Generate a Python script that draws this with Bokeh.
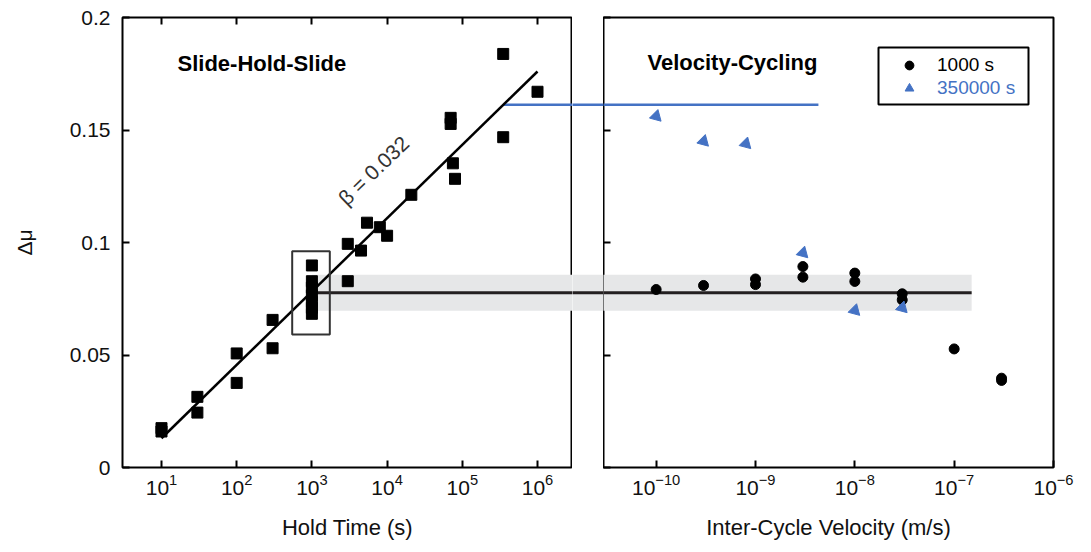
import math
from bokeh.plotting import figure
from bokeh.layouts import row
from bokeh.models import (Range1d, LogAxis, FixedTicker, NumeralTickFormatter,
                          Label, BoxAnnotation, Legend, LegendItem)
from bokeh.embed import file_html
from bokeh.resources import INLINE

# ---------------- data ----------------
# Slide-Hold-Slide: hold time (s) vs delta mu
shs_time = [10, 10, 30, 30, 100, 100, 300, 300,
            1000, 1000, 1000, 1000, 1000, 1000, 1000,
            3000, 3000, 4500, 5400, 8000, 10000, 21000,
            70000, 70000, 75000, 80000, 350000, 350000, 1000000]
shs_mu = [0.0175, 0.0160, 0.0314, 0.0244, 0.0507, 0.0376, 0.0656, 0.0530,
          0.0898, 0.0828, 0.0800, 0.0765, 0.0735, 0.0710, 0.0683,
          0.0994, 0.0828, 0.0964, 0.1088, 0.1068, 0.1030, 0.1212,
          0.1554, 0.1527, 0.1352, 0.1283, 0.1838, 0.1468, 0.1670]

# log-linear fit through SHS data
fit_time = [10, 1000000]
fit_mu = [0.013, 0.176]
beta_text = "\u03b2 = 0.032"

# box around the 1000 s SHS points
box_time = [547, 1730]
box_mu = [0.0591, 0.0961]

# Velocity cycling: inter-cycle velocity (m/s) vs delta mu
vc_v_1000 = [1e-10, 3e-10, 1e-9, 1e-9, 3e-9, 3e-9, 1e-8, 1e-8, 3e-8, 3e-8, 1e-7, 3e-7, 3e-7]
vc_mu_1000 = [0.0791, 0.0809, 0.0838, 0.0813, 0.0893, 0.0846, 0.0864, 0.0827,
              0.0772, 0.0745, 0.0527, 0.0397, 0.0387]
vc_v_350k = [1e-10, 3e-10, 8e-10, 3e-9, 1e-8, 3e-8]
vc_mu_350k = [0.1561, 0.1450, 0.1439, 0.0954, 0.0698, 0.0710]

# reference levels carried across panels
mean_1000_mu = 0.0777
band_1000 = [0.0697, 0.0857]
mean_1000_start_time = 1000
mean_1000_end_v = 1.5e-7
level_350k_mu = 0.1612
level_350k_start_time = 350000
level_350k_end_v = 4.3e-9

# axes
time_ticks = [1e1, 1e2, 1e3, 1e4, 1e5, 1e6]
vel_ticks = [1e-10, 1e-9, 1e-8, 1e-7, 1e-6]
mu_ticks = [0, 0.05, 0.1, 0.15, 0.2]
time_range = (10 ** 0.4814, 10 ** 6.4654)
vel_range = (10 ** -10.53, 1e-6)
mu_range = (0, 0.2)

# ---------------- style ----------------
FONT = "Liberation Sans"
TXT = "#111111"
BLUE = "#4472C4"
GREY = "#E6E7E8"
TICK_FS = "21px"
LAB_FS = "22px"
H = 542
TOP = 17
BOTTOM = 75


def style_axis(ax, labels=True):
    ax.axis_line_color = None
    ax.major_tick_in = 7
    ax.major_tick_out = 0
    ax.major_tick_line_width = 2
    ax.major_tick_line_color = "black"
    ax.minor_tick_in = 0
    ax.minor_tick_out = 0
    ax.minor_tick_line_color = None
    ax.major_label_text_font = FONT
    ax.major_label_text_color = TXT
    ax.axis_label_text_font = FONT
    ax.axis_label_text_font_style = "normal"
    ax.axis_label_text_color = TXT
    ax.axis_label_text_font_size = LAB_FS
    if labels:
        ax.major_label_text_font_size = TICK_FS
    else:
        ax.major_label_text_font_size = "1px"
        ax.major_label_text_alpha = 0
        ax.major_label_standoff = 0


def base_fig(width, xr, xtype, left, right):
    p = figure(width=width, height=H, x_range=Range1d(*xr), y_range=Range1d(*mu_range),
               x_axis_type=xtype, output_backend="svg", toolbar_location=None,
               min_border_left=left, min_border_right=right,
               min_border_top=TOP, min_border_bottom=BOTTOM)
    p.grid.visible = False
    p.outline_line_color = "black"
    p.outline_line_width = 2
    p.outline_line_alpha = 1
    p.background_fill_color = "white"
    p.border_fill_color = "white"
    return p


# ---------------- left panel: Slide-Hold-Slide ----------------
p1 = base_fig(572, time_range, "log", 122, 0)
xa = p1.xaxis[0]
xa.ticker = FixedTicker(ticks=time_ticks)
style_axis(xa)
xa.major_label_standoff = 6
xa.axis_label = "Hold Time (s)"
xa.axis_label_standoff = 17

ya = p1.yaxis[0]
ya.ticker = FixedTicker(ticks=mu_ticks)
ya.formatter = NumeralTickFormatter(format="0.[00]")
style_axis(ya)
ya.major_label_standoff = 12
ya.axis_label = "\u0394\u03bc"
ya.axis_label_text_font_size = "21px"
ya.axis_label_standoff = 31

top1 = LogAxis(ticker=FixedTicker(ticks=time_ticks))
style_axis(top1, labels=False)
p1.add_layout(top1, "above")

# band of the 1000 s mean, carried across to the velocity-cycling panel
p1.varea(x=[mean_1000_start_time, time_range[1] * 10],
         y1=[band_1000[0], band_1000[0]], y2=[band_1000[1], band_1000[1]],
         fill_color=GREY)
p1.line([mean_1000_start_time, time_range[1] * 10], [mean_1000_mu, mean_1000_mu],
        line_color="#231F20", line_width=3)
p1.line([level_350k_start_time, time_range[1] * 10], [level_350k_mu, level_350k_mu],
        line_color=BLUE, line_width=2.5)
p1.line(fit_time, fit_mu, line_color="black", line_width=2.5)
p1.quad(left=[box_time[0]], right=[box_time[1]], bottom=[box_mu[0]], top=[box_mu[1]],
        fill_alpha=0, line_color="#333333", line_width=2)
p1.scatter(shs_time, shs_mu, marker="square", size=11, fill_color="black", line_color="black")

p1.add_layout(Label(x=55, y=404, x_units="screen", y_units="screen", text="Slide-Hold-Slide",
                    text_font=FONT, text_font_size="22px", text_font_style="bold",
                    text_color="black", text_baseline="alphabetic"))
p1.add_layout(Label(x=10 ** 3.82, y=0.132, text=beta_text, angle=44, angle_units="deg",
                    text_align="center", text_baseline="middle", text_font=FONT,
                    text_font_size="21px", text_color="#333333"))

# ---------------- gap between panels ----------------
pg = figure(width=31, height=H, x_range=Range1d(0, 1), y_range=Range1d(*mu_range),
            x_axis_type=None, y_axis_type=None, output_backend="svg", toolbar_location=None,
            min_border_left=0, min_border_right=0, min_border_top=TOP, min_border_bottom=BOTTOM)
pg.grid.visible = False
pg.outline_line_color = None
pg.background_fill_color = "white"
pg.border_fill_color = "white"
pg.varea(x=[-1, 2], y1=[band_1000[0], band_1000[0]], y2=[band_1000[1], band_1000[1]],
         fill_color=GREY)
pg.line([-1, 2], [mean_1000_mu, mean_1000_mu], line_color="#231F20", line_width=3)
pg.line([-1, 2], [level_350k_mu, level_350k_mu], line_color=BLUE, line_width=2.5)

# ---------------- right panel: Velocity-Cycling ----------------
p2 = base_fig(480, vel_range, "log", 0, 30)
xb = p2.xaxis[0]
xb.ticker = FixedTicker(ticks=vel_ticks)
style_axis(xb)
xb.major_label_standoff = 6
xb.axis_label = "Inter-Cycle Velocity (m/s)"
xb.axis_label_standoff = 17

yb = p2.yaxis[0]
yb.ticker = FixedTicker(ticks=mu_ticks)
style_axis(yb, labels=False)

p2.varea(x=[vel_range[0] / 10, mean_1000_end_v],
         y1=[band_1000[0], band_1000[0]], y2=[band_1000[1], band_1000[1]],
         fill_color=GREY)
p2.line([vel_range[0] / 10, mean_1000_end_v], [mean_1000_mu, mean_1000_mu],
        line_color="#231F20", line_width=3)
p2.line([vel_range[0] / 10, level_350k_end_v], [level_350k_mu, level_350k_mu],
        line_color=BLUE, line_width=2.5)
r_circ = p2.scatter(vc_v_1000, vc_mu_1000, marker="circle", size=10,
                    fill_color="black", line_color="black")
r_tri = p2.scatter(vc_v_350k, vc_mu_350k, marker="triangle", size=12, angle=-135,
                   angle_units="deg", fill_color=BLUE, line_color=BLUE)

p2.add_layout(Label(x=44, y=405, x_units="screen", y_units="screen", text="Velocity-Cycling",
                    text_font=FONT, text_font_size="22px", text_font_style="bold",
                    text_color="black", text_baseline="alphabetic"))

# legend (two single-entry legends so each label keeps its own colour) + frame
leg_common = dict(padding=0, margin=0, glyph_width=24, glyph_height=22, label_height=22,
                  label_standoff=16, border_line_color=None, background_fill_alpha=0,
                  label_text_font=FONT, label_text_font_size="19px")
leg1 = Legend(items=[LegendItem(label="1000 s", renderers=[r_circ])], location=(294, 391),
              label_text_color="black", **leg_common)
leg2 = Legend(items=[LegendItem(label="350000 s", renderers=[r_tri])], location=(294, 368),
              label_text_color=BLUE, **leg_common)
p2.add_layout(leg1)
p2.add_layout(leg2)
p2.add_layout(BoxAnnotation(left=275, right=425, bottom=363, top=420,
                            left_units="screen", right_units="screen",
                            bottom_units="screen", top_units="screen",
                            fill_alpha=0, line_color="black", line_alpha=1,
                            line_width=2, level="overlay"))

layout = row(p1, pg, p2)
open("out.html", "w").write(file_html(layout, INLINE, title="Slide-Hold-Slide vs Velocity-Cycling"))
